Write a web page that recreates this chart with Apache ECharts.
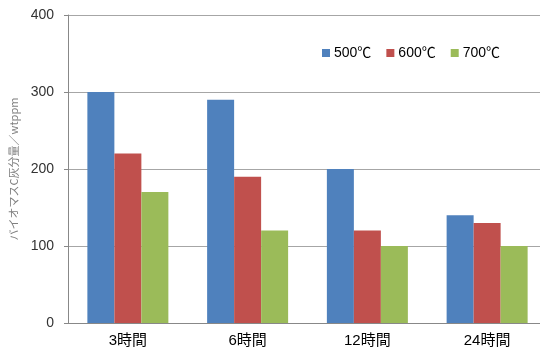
<!DOCTYPE html>
<html>
<head>
<meta charset="utf-8">
<script src="https://cdn.jsdelivr.net/npm/echarts@6/dist/echarts.min.js"></script>
<style>
  html, body { margin: 0; padding: 0; background: #fff; overflow: hidden; }
  #wrap { width: 540px; height: 350px; overflow: hidden; }
  #chart { width: 547px; height: 350px; }
</style>
</head>
<body>
<div id="wrap"><div id="chart"></div></div>
<script>
// Ash content of biomass C by treatment time and temperature
const categories = ['3時間', '6時間', '12時間', '24時間'];
const seriesNames = ['500℃', '600℃', '700℃'];
const values500 = [300, 290, 200, 140];
const values600 = [220, 190, 120, 130];
const values700 = [170, 120, 100, 100];
const yTicks = [0, 100, 200, 300, 400];

const colors = ['#4F81BD', '#C0504D', '#9BBB59'];
const font = '"Liberation Sans", "Noto Sans CJK JP", sans-serif';

const chart = echarts.init(document.getElementById('chart'), null, { renderer: 'canvas' });

const dataSets = [values500, values600, values700];

chart.setOption({
  animation: false,
  backgroundColor: '#ffffff',
  color: colors,
  // plot area runs past the right edge of the visible frame
  grid: { left: 67, top: 15, right: 0, bottom: 27, containLabel: false },
  legend: {
    data: seriesNames,
    left: 317,
    top: 41,
    icon: 'rect',
    itemWidth: 8,
    itemHeight: 8,
    itemGap: 15,
    textStyle: { fontFamily: font, fontSize: 14, color: '#000', padding: [0, 0, 0, -1] }
  },
  xAxis: {
    type: 'category',
    data: categories,
    axisLine: { lineStyle: { color: '#888', width: 1 } },
    axisTick: { show: false },
    axisLabel: { fontFamily: font, fontSize: 15, color: '#000', margin: 10 }
  },
  yAxis: {
    type: 'value',
    min: yTicks[0],
    max: yTicks[yTicks.length - 1],
    interval: 100,
    name: 'バイオマスC灰分量／wtppm',
    nameLocation: 'middle',
    nameGap: 49,
    nameRotate: 90,
    nameTextStyle: { fontFamily: '"Noto Sans CJK JP", sans-serif', fontSize: 11, color: '#808080' },
    axisLine: { show: true, lineStyle: { color: '#888', width: 1 } },
    axisTick: { show: true, length: 4, lineStyle: { color: '#888' } },
    axisLabel: { fontFamily: font, fontSize: 14, color: '#333', margin: 14 },
    splitLine: { lineStyle: { color: '#A6A6A6', width: 1 } }
  },
  series: seriesNames.map((name, i) => ({
    name: name,
    type: 'bar',
    data: dataSets[i],
    barWidth: 27,
    barGap: '0%',
    itemStyle: { color: colors[i] }
  }))
});
</script>
</body>
</html>
